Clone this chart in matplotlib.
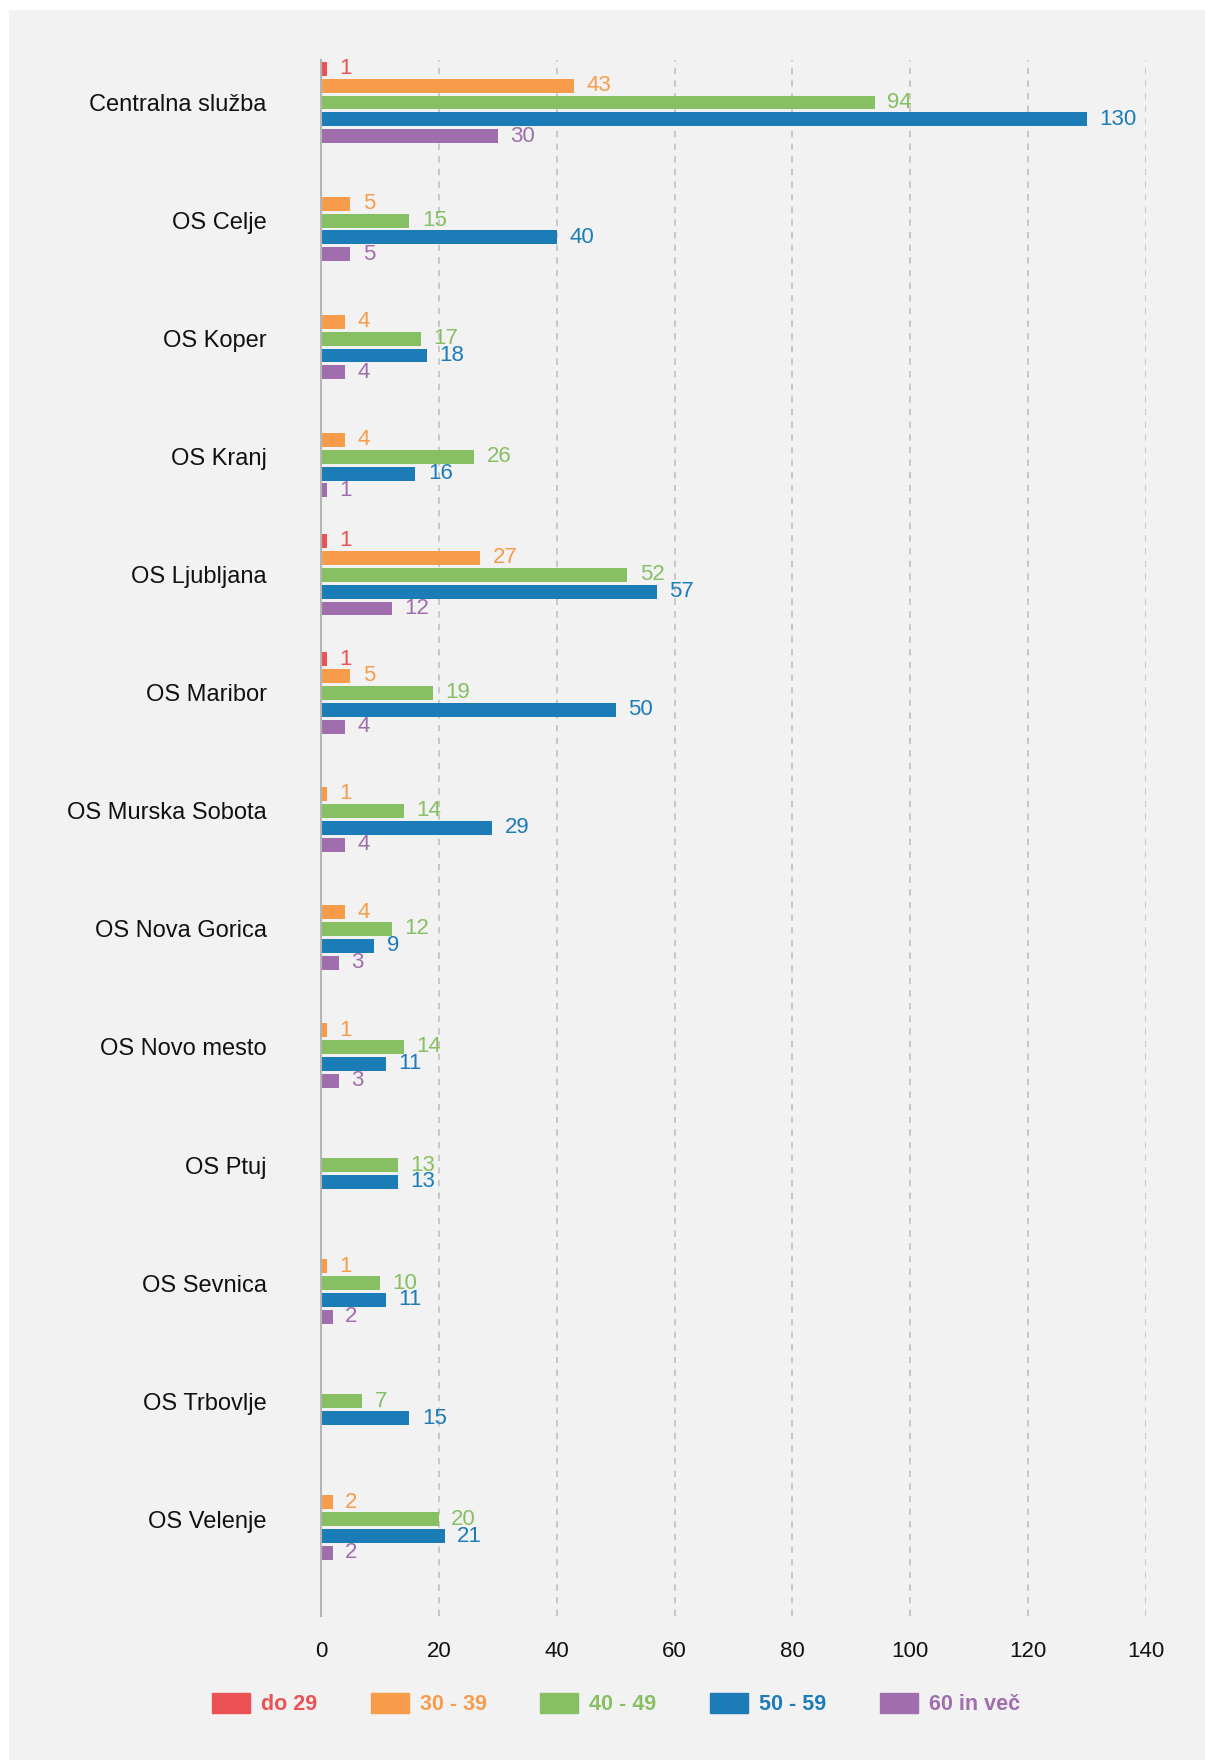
# Starostna struktura zaposlenih po enotah
# horizontal grouped bar chart -> out.png

import numpy as np
import matplotlib
matplotlib.use("Agg")
import matplotlib.pyplot as plt
from matplotlib.patches import Rectangle

# ─────────────────────────────────────────────
# DATA
# ─────────────────────────────────────────────
units = [
    'Centralna služba', 'OS Celje', 'OS Koper', 'OS Kranj',
    'OS Ljubljana', 'OS Maribor', 'OS Murska Sobota',
    'OS Nova Gorica', 'OS Novo mesto', 'OS Ptuj',
    'OS Sevnica', 'OS Trbovlje', 'OS Velenje']

age_groups = ['do 29', '30 - 39', '40 - 49', '50 - 59', '60 in več']

# None = no employees in that group (no bar drawn)
do_29 = [1, None, None, None, 1, 1, None,
         None, None, None, None, None, None]
age_30_39 = [43, 5, 4, 4, 27, 5, 1,
             4, 1, None, 1, None, 2]
age_40_49 = [94, 15, 17, 26, 52, 19, 14,
             12, 14, 13, 10, 7, 20]
age_50_59 = [130, 40, 18, 16, 57, 50, 29,
             9, 11, 13, 11, 15, 21]
age_60_plus = [30, 5, 4, 1, 12, 4, 4,
               3, 3, None, 2, None, 2]

x_ticks = [0, 20, 40, 60, 80, 100, 120, 140]

series = [do_29, age_30_39, age_40_49, age_50_59, age_60_plus]

COLORS = ['#EC5254', '#F69C4B', '#87BF63', '#1C7CB8', '#A06EAC']
BG = '#F2F2F2'

plt.rcParams['font.family'] = ['Liberation Sans', 'DejaVu Sans']

# ─────────────────────────────────────────────
# FIGURE
# ─────────────────────────────────────────────
fig = plt.figure(figsize=(12.05, 17.6), dpi=100, facecolor='white')
# grey panel (thin white strip on top and left like the original)
fig.patches.append(Rectangle(
    (9 / 1205, 0), 1, 1 - 10 / 1760,
    transform=fig.transFigure, facecolor=BG,
    edgecolor='none', zorder=-10))

ax = fig.add_axes([321 / 1205, 1 - 1616 / 1760,
                   (1146 - 321) / 1205, (1616 - 60) / 1760])
ax.set_facecolor(BG)

y = np.arange(len(units))
step = 0.143
bar_h = 0.118

for j, (vals, name) in enumerate(zip(series, age_groups)):
    offs = (j - 2) * step
    for i, v in enumerate(vals):
        if v is None:
            continue
        ax.barh(y[i] + offs, v, height=bar_h,
                color=COLORS[j], zorder=3)
        ax.annotate(
            f'{v}',
            xy=(v, y[i] + offs),
            xytext=(9, 0),
            textcoords='offset points',
            va='center', ha='left',
            fontsize=16, color=COLORS[j], zorder=4)

# legend handles
handles = [Rectangle((0, 0), 1, 1, color=c) for c in COLORS]

# ─────────────────────────────────────────────
# AXES STYLE
# ─────────────────────────────────────────────
ax.set_xlim(0, 140)
ax.set_ylim(12.82, -0.36)
ax.set_xticks(x_ticks)
ax.set_xticklabels([str(t) for t in x_ticks])
ax.set_yticks(y)
ax.set_yticklabels(units)

ax.tick_params(axis='x', length=0, pad=18, labelsize=16,
               labelcolor='#111111')
ax.tick_params(axis='y', length=0, pad=39, labelsize=17,
               labelcolor='#111111')

for s in ['top', 'right', 'bottom']:
    ax.spines[s].set_visible(False)
ax.spines['left'].set_color('#B5B5B5')
ax.spines['left'].set_linewidth(1.5)
ax.spines['left'].set_zorder(5)

ax.xaxis.grid(True, color='#C4C4C4', linewidth=1.3,
              linestyle=(0, (3.5, 3.5)), zorder=0)
ax.yaxis.grid(False)
ax.set_axisbelow(True)

leg = fig.legend(
    handles, age_groups,
    loc='center', bbox_to_anchor=(616 / 1205, 1 - 1704 / 1760),
    ncol=5, frameon=False,
    handlelength=1.77, handleheight=1.07,
    handletextpad=0.5, columnspacing=2.5,
    prop={'weight': 'bold', 'size': 15.5})
for txt, c in zip(leg.get_texts(), COLORS):
    txt.set_color(c)

fig.savefig('out.png', dpi=100, facecolor=fig.get_facecolor())
print("Saved: out.png")
